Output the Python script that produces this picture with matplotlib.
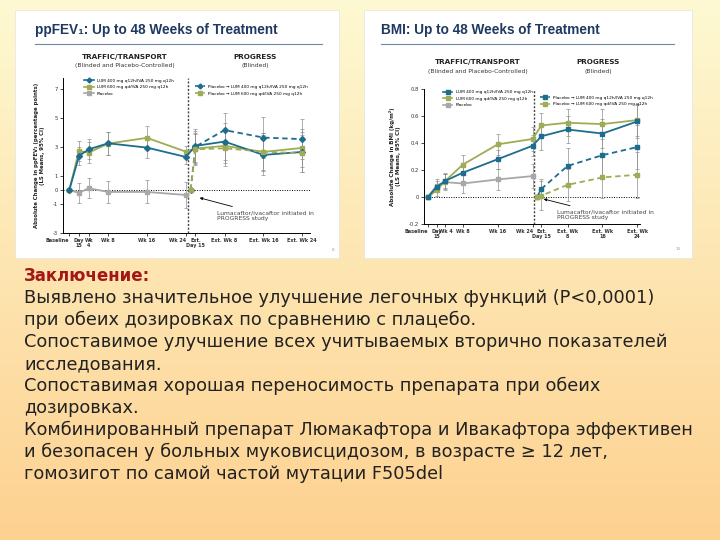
import numpy as np
import matplotlib
matplotlib.use("Agg")
import matplotlib.pyplot as plt
from matplotlib.patches import Rectangle
from matplotlib.lines import Line2D

# ---- data ----
weeks = [0, 2, 4, 8, 16, 24, 26, 32, 40, 48]
placebo_weeks = [0, 2, 4, 8, 16, 24]
progress_weeks = [25, 26, 32, 40, 48]

fev_ticklabels = ["Baseline", "Day\n15", "Wk\n4", "Wk 8", "Wk 16", "Wk 24",
                  "Ext.\nDay 15", "Ext. Wk 8", "Ext. Wk 16", "Ext. Wk 24"]
bmi_ticklabels = ["Baseline", "Day\n15", "Wk 4", "Wk 8", "Wk 16", "Wk 24",
                  "Ext.\nDay 15", "Ext. Wk\n8", "Ext. Wk\n16", "Ext. Wk\n24"]

fev_lum400 = [0, 2.37, 2.83, 3.25, 2.95, 2.30, 3.07, 3.37, 2.44, 2.65]
fev_lum400_err = [0, 0.65, 0.7, 0.8, 0.75, 0.5, 1.2, 1.3, 1.4, 1.4]
fev_lum600 = [0, 2.72, 2.60, 3.23, 3.63, 2.67, 2.88, 3.07, 2.65, 2.93]
fev_lum600_err = [0, 0.7, 0.75, 0.8, 0.8, 0.4, 1.1, 1.2, 1.3, 1.3]
fev_placebo = [0, -0.21, 0.12, -0.14, -0.14, -0.35]
fev_placebo_err = [0, 0.7, 0.7, 0.75, 0.8, 0.9]
fev_pbo_lum400 = [0, 3.02, 4.17, 3.65, 3.54]
fev_pbo_lum400_err = [0, 1.1, 1.2, 1.4, 1.4]
fev_pbo_lum600 = [0, 2.83, 2.90, 2.67, 2.55]
fev_pbo_lum600_err = [0, 1.1, 1.2, 1.3, 1.3]

bmi_lum400 = [0, 0.075, 0.12, 0.18, 0.28, 0.38, 0.45, 0.50, 0.47, 0.56]
bmi_lum400_err = [0, 0.04, 0.05, 0.06, 0.07, 0.08, 0.1, 0.1, 0.11, 0.12]
bmi_lum600 = [0, 0.05, 0.12, 0.24, 0.39, 0.43, 0.53, 0.55, 0.54, 0.57]
bmi_lum600_err = [0, 0.04, 0.06, 0.07, 0.08, 0.09, 0.09, 0.1, 0.11, 0.12]
bmi_placebo = [0, 0.085, 0.11, 0.10, 0.13, 0.155]
bmi_placebo_err = [0, 0.05, 0.06, 0.07, 0.08, 0.09]
bmi_pbo_lum400 = [0, 0.06, 0.23, 0.31, 0.37]
bmi_pbo_lum400_err = [0, 0.07, 0.13, 0.15, 0.16]
bmi_pbo_lum600 = [0, 0.01, 0.09, 0.145, 0.165]
bmi_pbo_lum600_err = [0, 0.11, 0.12, 0.15, 0.17]

legend_solid = ["LUM 400 mg q12h/IVA 250 mg q12h", "LUM 600 mg qd/IVA 250 mg q12h", "Placebo"]
legend_dashed = ["Placebo \u2192 LUM 400 mg q12h/IVA 250 mg q12h",
                 "Placebo \u2192 LUM 600 mg qd/IVA 250 mg q12h"]

conclusion_title = "Заключение:"
conclusion_lines = [
    "Выявлено значительное улучшение легочных функций (P<0,0001)",
    "при обеих дозировках по сравнению с плацебо.",
    "Сопоставимое улучшение всех учитываемых вторично показателей",
    "исследования.",
    "Сопоставимая хорошая переносимость препарата при обеих",
    "дозировках.",
    "Комбинированный препарат Люмакафтора и Ивакафтора эффективен",
    "и безопасен у больных муковисцидозом, в возрасте \u2265 12 лет,",
    "гомозигот по самой частой мутации F505del",
]

BLUE = "#1d6d8f"
OLIVE = "#a0ab55"
GRAY = "#a8a8a8"
NAVY = "#1f3a60"

W, H = 720, 540


def fx(px):
    return px / W


def fy(py):
    return 1 - py / H


def draw_chart(ax, xlim, ylim, yticks, yticklabels, ticklabels, series, vline_x,
               ylabel, ylabel_size, annot_xy, annot_text_xy):
    s400, e400, s600, e600, pbo, epbo, d400, ed400, d600, ed600, mk = series
    eb = dict(ecolor="#8f8f8f", elinewidth=0.5, capsize=1.5, capthick=0.5, ms=3)
    ax.axhline(0, color="black", lw=0.7, ls=(0, (1, 1.5)), zorder=1)
    ax.axvline(vline_x, color="#444444", lw=1.0, ls=(0, (1.5, 1.2)), zorder=1)
    ax.errorbar(placebo_weeks, pbo, yerr=epbo, color=GRAY, marker="s", lw=1.3, **eb)
    ax.errorbar(weeks, s600, yerr=e600, color=OLIVE, marker="s", lw=1.3, **eb)
    ax.errorbar(weeks, s400, yerr=e400, color=BLUE, marker=mk, lw=1.3, **eb)
    ax.errorbar(progress_weeks, d400, yerr=ed400, color=BLUE, marker=mk, lw=1.3,
                ls=(0, (3, 2)), **eb)
    ax.errorbar(progress_weeks, d600, yerr=ed600, color=OLIVE, marker="s", lw=1.3,
                ls=(0, (3, 2)), **eb)

    ax.set_xlim(*xlim)
    ax.set_ylim(*ylim)
    ax.set_xticks(weeks)
    ax.set_xticklabels(ticklabels, fontsize=3.5, fontweight="bold", color="#333333",
                       linespacing=1.0)
    # Baseline and Wk 24 sit left of their ticks, as on the slide
    labels = ax.get_xticklabels()
    labels[0].set_ha("right")
    labels[5].set_ha("right")
    ax.set_yticks(yticks)
    ax.set_yticklabels(yticklabels, fontsize=3.8, color="#333333")
    ax.tick_params(length=2, width=0.5, pad=1.5)
    for side in ("top", "right"):
        ax.spines[side].set_visible(False)
    for side in ("left", "bottom"):
        ax.spines[side].set_linewidth(0.7)
    ax.set_facecolor("none")
    ax.set_ylabel(ylabel, fontsize=ylabel_size, fontweight="bold", color="#222222",
                  labelpad=6, linespacing=1.1)

    solid = [Line2D([0], [0], color=BLUE, marker=mk, ms=2.5, lw=1.2),
             Line2D([0], [0], color=OLIVE, marker="s", ms=2.5, lw=1.2),
             Line2D([0], [0], color=GRAY, marker="s", ms=2.5, lw=1.2)]
    dashed = [Line2D([0], [0], color=BLUE, marker=mk, ms=2.5, lw=1.2, ls=(0, (3, 2))),
              Line2D([0], [0], color=OLIVE, marker="s", ms=2.5, lw=1.2, ls=(0, (3, 2)))]
    leg1 = ax.legend(solid, legend_solid, loc="upper left", bbox_to_anchor=(0.07, 1.02),
                     fontsize=3.1, frameon=False, handlelength=2.2, labelspacing=0.6)
    ax.add_artist(leg1)
    ax.legend(dashed, legend_dashed, loc="upper left", bbox_to_anchor=(0.52, 0.98),
              fontsize=3.1, frameon=False, handlelength=2.2, labelspacing=0.6)

    ax.annotate("Lumacaftor/ivacaftor initiated in\nPROGRESS study", xy=annot_xy,
                xytext=annot_text_xy, fontsize=4.3, color="#444444", va="top",
                arrowprops=dict(arrowstyle="-|>", color="black", lw=0.6,
                                mutation_scale=4))


fig = plt.figure(figsize=(7.2, 5.4), dpi=100)

# slide background gradient
bg = fig.add_axes([0, 0, 1, 1], zorder=-10)
top = np.array([253, 249, 210]) / 255
bottom = np.array([254, 209, 144]) / 255
t = np.linspace(0, 1, 256)[:, None]
grad = top + (bottom - top) * t
bg.imshow(grad[:, None, :], aspect="auto", extent=[0, 1, 0, 1])
bg.axis("off")

# white slide panels
for x0, x1 in [(15, 339), (364, 692)]:
    fig.patches.append(Rectangle((fx(x0), fy(258)), fx(x1) - fx(x0), fy(10) - fy(258),
                                 transform=fig.transFigure, facecolor="white",
                                 edgecolor="#e4e4e4", lw=0.5, zorder=-5))

# panel titles
fig.text(fx(35), fy(30), "ppFEV\u2081: Up to 48 Weeks of Treatment", fontsize=9.8,
         fontweight="bold", color=NAVY, va="center", family="Liberation Sans")
fig.text(fx(381), fy(30), "BMI: Up to 48 Weeks of Treatment", fontsize=9.8,
         fontweight="bold", color=NAVY, va="center", family="Liberation Sans")
fig.add_artist(Line2D([fx(35), fx(322)], [fy(44), fy(44)], color="#6f87a3", lw=0.8))
fig.add_artist(Line2D([fx(381), fx(674)], [fy(44), fy(44)], color="#6f87a3", lw=0.8))

# study headers
for cx, cy, name, sub in [(125, 57, "TRAFFIC/TRANSPORT", "(Blinded and Placebo-Controlled)"),
                          (255, 57, "PROGRESS", "(Blinded)"),
                          (478, 62, "TRAFFIC/TRANSPORT", "(Blinded and Placebo-Controlled)"),
                          (598, 62, "PROGRESS", "(Blinded)")]:
    fig.text(fx(cx), fy(cy), name, fontsize=5.2, fontweight="bold", color="#222222",
             ha="center", va="center")
    fig.text(fx(cx), fy(cy + 9), sub, fontsize=4.3, color="#333333", ha="center", va="center")

# ppFEV1 chart
ax1 = fig.add_axes([fx(63), fy(233), fx(310) - fx(63), fy(78) - fy(233)])
draw_chart(ax1, (-1.3, 49.6), (-3, 7.8), [-3, -1, 0, 1, 3, 5, 7],
           ["-3", "-1", "0", "1", "3", "5", "7"], fev_ticklabels,
           [fev_lum400, fev_lum400_err, fev_lum600, fev_lum600_err, fev_placebo,
            fev_placebo_err, fev_pbo_lum400, fev_pbo_lum400_err, fev_pbo_lum600,
            fev_pbo_lum600_err, "D"],
           24.5, "Absolute Change in ppFEV\u2081 (percentage points)\n(LS Means, 95% CI)",
           3.9, (26.3, -0.5), (30.5, -1.4))

# BMI chart
ax2 = fig.add_axes([fx(424), fy(224), fx(640) - fx(424), fy(89) - fy(224)])
draw_chart(ax2, (-0.9, 48.6), (-0.2, 0.8), [-0.2, 0, 0.2, 0.4, 0.6, 0.8],
           ["-0.2", "0", "0.2", "0.4", "0.6", "0.8"], bmi_ticklabels,
           [bmi_lum400, bmi_lum400_err, bmi_lum600, bmi_lum600_err, bmi_placebo,
            bmi_placebo_err, bmi_pbo_lum400, bmi_pbo_lum400_err, bmi_pbo_lum600,
            bmi_pbo_lum600_err, "s"],
           24.4, "Absolute Change in BMI (kg/m\u00b2)\n(LS Means, 95% CI)",
           4.0, (25.9, -0.01), (29.5, -0.09))

fig.text(fx(333), fy(250), "8", fontsize=3, color="#999999", ha="center", va="center")
fig.text(fx(678), fy(249), "13", fontsize=3, color="#999999", ha="center", va="center")

# conclusion text
fig.text(fx(24), fy(276), conclusion_title, fontsize=12, fontweight="bold",
         color="#a31717", va="center")
for i, line in enumerate(conclusion_lines):
    fig.text(fx(24), fy(298 + 22 * i), line, fontsize=12.8, color="#222222", va="center")

fig.savefig("out.png", dpi=100)
